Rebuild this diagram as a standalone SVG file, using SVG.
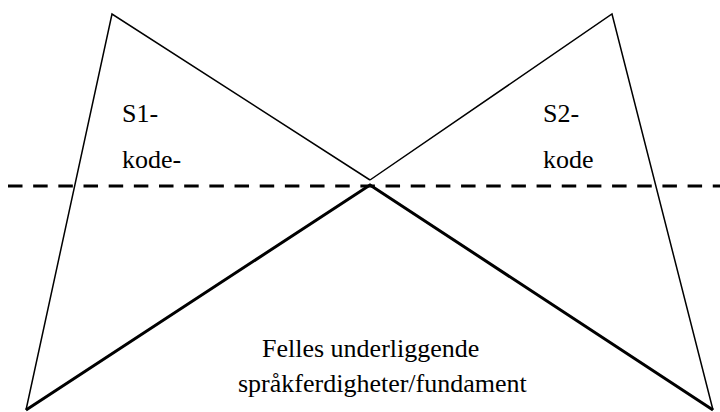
<svg xmlns="http://www.w3.org/2000/svg" width="720" height="412" viewBox="0 0 720 412">
<style>
.thin{fill:none;stroke:#000;stroke-width:1.5;stroke-linejoin:miter}
.thick{fill:none;stroke:#000;stroke-width:3;stroke-linejoin:miter}
.dash{stroke:#000;stroke-width:3;stroke-dasharray:14.5 10.67}
text{font-family:'Liberation Serif','Times New Roman',serif;font-size:26px;fill:#000}
</style>
<rect width="720" height="412" fill="#fff"/>
<g id="connectors">
<line class="dash" x1="8" y1="186" x2="720" y2="186"/>
<polyline class="thin" points="26,410 112,14 370,180"/>
<polyline class="thin" points="370,180 612,14 713,410"/>
<polyline class="thick" points="26,410 370,185 713,410"/>
</g>
<g id="s1"><text x="122" y="122">S1-</text><text x="122" y="168">kode-</text></g>
<g id="s2"><text x="543" y="122">S2-</text><text x="543" y="168">kode</text></g>
<g id="fundament"><text x="262" y="357">Felles underliggende</text><text x="238" y="392">språkferdigheter/fundament</text></g>
</svg>
